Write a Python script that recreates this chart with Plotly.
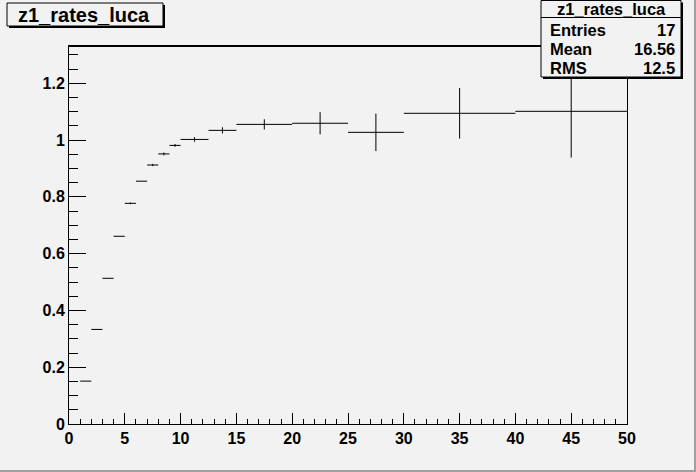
import plotly.graph_objects as go

# ---- data ----
bin_edges = [1, 2, 3, 4, 5, 6, 7, 8, 9, 10, 12.5, 15, 20, 25, 30, 40, 50]
values = [0.151, 0.333, 0.513, 0.661, 0.777, 0.855, 0.912, 0.951, 0.981, 1.002,
          1.034, 1.055, 1.059, 1.027, 1.094, 1.101]
errors = [0.0, 0.0, 0.0, 0.0, 0.003, 0.0, 0.004, 0.005, 0.005, 0.008,
          0.011, 0.018, 0.039, 0.066, 0.089, 0.163]
hist_title = "z1_rates_luca"
stats_labels = ["Entries", "Mean", "RMS"]
stats_values = ["17", "16.56", "12.5"]

centers = [(a + b) / 2 for a, b in zip(bin_edges[:-1], bin_edges[1:])]
halfw = [(b - a) / 2 for a, b in zip(bin_edges[:-1], bin_edges[1:])]

W, H = 696, 472
L, R, T, B = 69, 627, 46, 424
BG = "#f2f2f2"
FONT = "Liberation Sans, Arial, Helvetica, sans-serif"


def px(x):
    return (x - L) / (R - L)


def py(y):
    return (B - y) / (B - T)


fig = go.Figure()
fig.add_trace(go.Scatter(
    x=centers, y=values, mode="markers",
    marker=dict(size=1, color="rgba(0,0,0,0)"),
    error_x=dict(type="data", array=halfw, width=0, thickness=1, color="black"),
    error_y=dict(type="data", array=errors, width=0, thickness=1, color="black"),
    showlegend=False, hoverinfo="skip",
))

shapes = []
# frame top (thicker)
shapes.append(dict(type="line", xref="paper", yref="paper", x0=0, x1=1, y0=1, y1=1,
                   line=dict(color="black", width=2), layer="above"))


def box(x0, y0, x1, y1, sh=2):
    shapes.append(dict(type="rect", xref="paper", yref="paper",
                       x0=px(x0 + sh), x1=px(x1 + sh), y0=py(y1 + sh), y1=py(y0 + sh),
                       fillcolor="black", line=dict(width=0), layer="above"))
    shapes.append(dict(type="rect", xref="paper", yref="paper",
                       x0=px(x0), x1=px(x1), y0=py(y1), y1=py(y0),
                       fillcolor=BG, line=dict(color="black", width=1), layer="above"))


box(7, 3, 163, 26)
box(541, 0.5, 681, 77)
shapes.append(dict(type="line", xref="paper", yref="paper", x0=px(541), x1=px(681),
                   y0=py(17.5), y1=py(17.5), line=dict(color="black", width=1), layer="above"))
# canvas border (right/bottom)
shapes.append(dict(type="rect", xref="paper", yref="paper", x0=px(694), x1=px(700),
                   y0=py(480), y1=py(-5), fillcolor="#a0a0a0", line=dict(width=0), layer="above"))
shapes.append(dict(type="rect", xref="paper", yref="paper", x0=px(-5), x1=px(700),
                   y0=py(480), y1=py(470), fillcolor="#a0a0a0", line=dict(width=0), layer="above"))

ann = []
ann.append(dict(text=hist_title, x=px(84), y=py(15), xref="paper", yref="paper",
                showarrow=False, xanchor="center", yanchor="middle",
                font=dict(family=FONT, size=20, color="black", weight="bold")))
ann.append(dict(text=hist_title, x=px(611), y=py(9), xref="paper", yref="paper",
                showarrow=False, xanchor="center", yanchor="middle",
                font=dict(family=FONT, size=16.5, color="black", weight="bold")))
rows_y = [30, 49, 68]
for lab, val, yy in zip(stats_labels, stats_values, rows_y):
    ann.append(dict(text=lab, x=px(548), y=py(yy), xref="paper", yref="paper",
                    showarrow=False, xanchor="left", yanchor="middle",
                    font=dict(family=FONT, size=16.5, color="black", weight="bold")))
    ann.append(dict(text=val, x=px(677), y=py(yy), xref="paper", yref="paper",
                    showarrow=False, xanchor="right", yanchor="middle",
                    font=dict(family=FONT, size=16.5, color="black", weight="bold")))

tickfont = dict(family=FONT, size=16, color="black", weight="bold")
fig.update_layout(
    width=W, height=H,
    margin=dict(l=L, r=W - R, t=T, b=H - B, pad=0),
    paper_bgcolor=BG, plot_bgcolor=BG,
    shapes=shapes, annotations=ann,
    xaxis=dict(range=[0, 50], tick0=0, dtick=5, ticks="inside", ticklen=11, tickcolor="black",
               tickwidth=1, showline=True, linecolor="black", linewidth=1, mirror=True,
               showgrid=False, zeroline=False, tickfont=tickfont,
               minor=dict(dtick=1, ticks="inside", ticklen=5.5, tickcolor="black", showgrid=False)),
    yaxis=dict(range=[0, 1.331], tick0=0, dtick=0.2, ticks="inside", ticklen=17, tickcolor="black",
               tickwidth=1, showline=True, linecolor="black", linewidth=1, mirror=True,
               showgrid=False, zeroline=False, tickfont=tickfont, tickformat="~g",
               minor=dict(dtick=0.05, ticks="inside", ticklen=8.5, tickcolor="black", showgrid=False)),
)

fig.write_html("out.html", config={"displayModeBar": False},
               post_script="document.body.style.margin='0px';document.body.style.background='#f2f2f2';")
